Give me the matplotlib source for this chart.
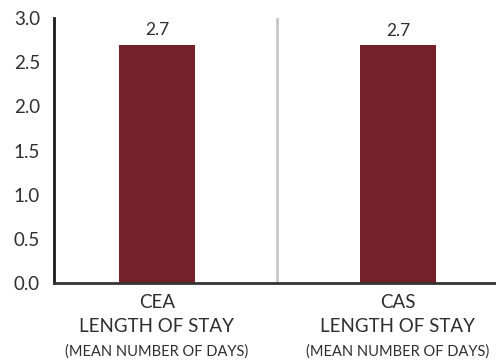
import numpy as np
import matplotlib.pyplot as plt
import matplotlib.transforms as mtransforms

categories = ["CEA", "CAS"]
subtitle = "LENGTH OF STAY"
note = "(MEAN NUMBER OF DAYS)"
values = [2.7, 2.69]
value_labels = ["2.7", "2.7"]
yticks = [0.0, 0.5, 1.0, 1.5, 2.0, 2.5, 3.0]

bar_color = "#76212a"
text_color = "#2e2e2e"
plt.rcParams['font.family'] = ['Lato', 'DejaVu Sans']

fig = plt.figure(figsize=(4.96, 3.62), dpi=100)
ax = fig.add_axes([54/496, 79/362, 442/496, 265/362])

x = np.arange(len(categories))
ax.bar(x, values, width=0.315, color=bar_color, zorder=2)
for xi, v, lab in zip(x, values, value_labels):
    ax.text(xi, v + 0.07, lab, ha='center', va='bottom', fontsize=12.5,
            color=text_color)

ax.axvline(0.5, color='#c8c8c8', lw=2, zorder=1)

ax.set_xlim(-0.427, 1.407)
ax.set_ylim(0, 3)
ax.set_yticks(yticks)
ax.set_yticklabels([f"{t:.1f}" for t in yticks], fontsize=13.5,
                   color=text_color)
ax.tick_params(axis='y', length=0, pad=10)
ax.set_xticks([])

for s in ['top', 'right']:
    ax.spines[s].set_visible(False)
ax.spines['left'].set_color('#1a1a1a')
ax.spines['left'].set_linewidth(2)
ax.spines['bottom'].set_color('#333333')
ax.spines['bottom'].set_linewidth(2)

trans = mtransforms.blended_transform_factory(ax.transData, fig.transFigure)
for xi, cat in zip(x, categories):
    ax.text(xi, 1 - 302/362, cat, transform=trans, ha='center', va='center',
            fontsize=13.5, color=text_color)
    ax.text(xi, 1 - 326/362, subtitle, transform=trans, ha='center', va='center',
            fontsize=13.5, color=text_color)
    ax.text(xi, 1 - 352/362, note, transform=trans, ha='center', va='center',
            fontsize=10.5, color=text_color)

fig.savefig("out.png", dpi=100)
